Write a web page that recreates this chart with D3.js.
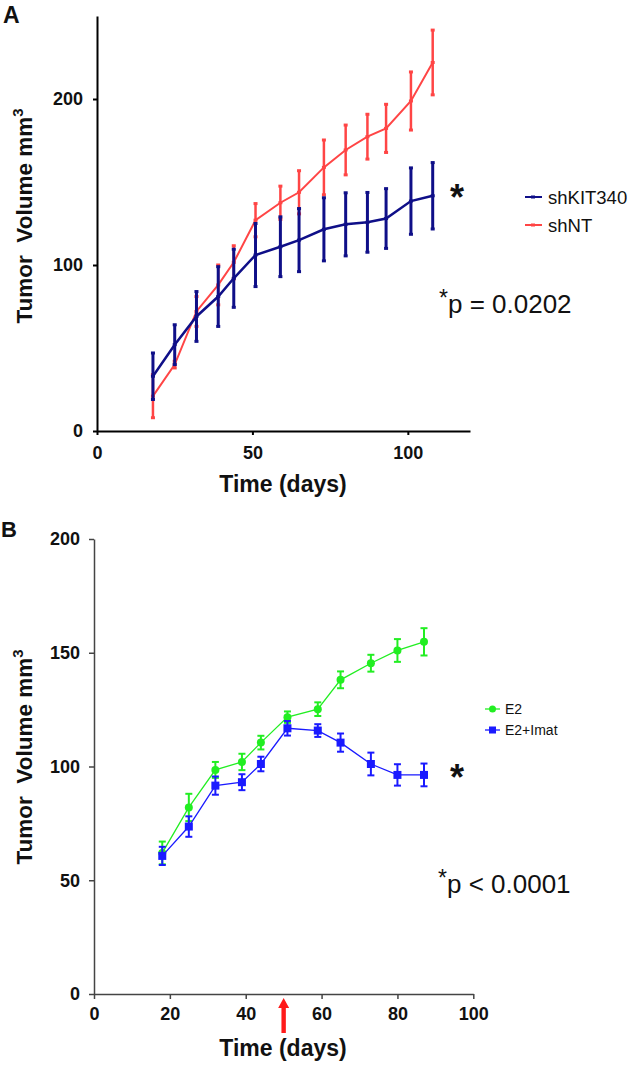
<!DOCTYPE html>
<html>
<head>
<meta charset="utf-8">
<script src="https://cdn.jsdelivr.net/npm/d3@7"></script>
<style>
  html, body { margin: 0; padding: 0; background: #fff; }
  svg { display: block; font-family: "Liberation Sans", Arial, sans-serif; }
</style>
</head>
<body>
<svg id="chart" width="633" height="1065"></svg>
<script>
// ---------- Panel A data ----------
const daysA = [18, 25, 32, 39, 44, 51, 59, 65, 73, 80, 87, 93, 101, 108];
const shKIT340 = [33, 52, 69, 81, 92, 106, 111, 115, 121.5, 124.5, 125.7, 128, 138.5, 141.7];
const shKIT340Err = [14, 12, 15, 18, 17.5, 19, 18, 19, 19, 19, 18, 18, 20, 20];
const shNT = [21, 40, 72, 88, 101.6, 127, 137.5, 143.8, 158.8, 169.3, 177.3, 182.3, 198.8, 222];
const shNTErr = [13, 2, 9, 12, 10, 10, 10, 13, 16.5, 15, 13.5, 14.5, 17.5, 19.5];
const ticksAx = [0, 50, 100];
const ticksAy = [0, 100, 200];
const legendA = ["shKIT340", "shNT"];

// ---------- Panel B data ----------
const daysB = [18, 25, 32, 39, 44, 51, 59, 65, 73, 80, 87];
const E2 = [62, 82, 98.5, 102, 110.5, 121.7, 125.2, 138.1, 145.4, 151, 154.8];
const E2Err = [5, 6, 3.5, 3.6, 3, 2.5, 3, 3.7, 3.7, 5, 6];
const E2Imat = [60.7, 73.6, 91.6, 93.1, 101.1, 116.8, 115.8, 110.5, 101.1, 96.3, 96.3];
const E2ImatErr = [4, 4.5, 4, 3.5, 3.2, 3.2, 2.8, 4, 5, 4.7, 5];
const ticksBx = [0, 20, 40, 60, 80, 100];
const ticksBy = [0, 50, 100, 150, 200];
const legendB = ["E2", "E2+Imat"];
const treatmentDay = 50;

const svg = d3.select("#chart");

// ================= Panel A =================
const xA = d3.scaleLinear().domain([0, 120]).range([97, 470]);
const yA = d3.scaleLinear().domain([0, 250]).range([431, 16]);

const gA = svg.append("g");

function styleAxisA(g) {
  g.select(".domain").attr("stroke", "#000").attr("stroke-width", 2);
  g.selectAll(".tick line").attr("stroke", "#000").attr("stroke-width", 2);
  g.selectAll(".tick text").attr("fill", "#111").attr("font-size", 18).attr("font-weight", "bold")
    .attr("font-family", "Liberation Sans, Arial, sans-serif");
}
gA.append("g").attr("transform", `translate(0,${yA(0)})`)
  .call(d3.axisBottom(xA).tickValues(ticksAx).tickSize(4).tickSizeOuter(0).tickPadding(11))
  .call(styleAxisA);
gA.append("g").attr("transform", `translate(${xA(0)},0)`)
  .call(d3.axisLeft(yA).tickValues(ticksAy).tickSize(4).tickSizeOuter(0).tickPadding(10))
  .call(styleAxisA);

function drawSeriesA(days, vals, errs, color, lw, bw) {
  const g = gA.append("g");
  const line = d3.line().x((d, i) => xA(days[i])).y(d => yA(d));
  g.append("path").datum(vals).attr("d", line).attr("fill", "none")
    .attr("stroke", color).attr("stroke-width", lw);
  g.selectAll("line.err").data(vals).join("line")
    .attr("x1", (d, i) => xA(days[i])).attr("x2", (d, i) => xA(days[i]))
    .attr("y1", (d, i) => yA(d - errs[i])).attr("y2", (d, i) => yA(d + errs[i]))
    .attr("stroke", color).attr("stroke-width", bw);
  const caps = [];
  vals.forEach((d, i) => { caps.push([days[i], d - errs[i]]); caps.push([days[i], d + errs[i]]); caps.push([days[i], d]); });
  g.selectAll("rect.cap").data(caps).join("rect")
    .attr("x", d => xA(d[0]) - 2).attr("y", d => yA(d[1]) - 1.5)
    .attr("width", 4).attr("height", 3).attr("fill", color);
}
const redA = "#ff4545", navyA = "#0f0f88";
drawSeriesA(daysA, shNT, shNTErr, redA, 2, 2.5);
drawSeriesA(daysA, shKIT340, shKIT340Err, navyA, 2.5, 3);

// Legend A
const legColorsA = [navyA, redA];
legendA.forEach((name, i) => {
  const y = 197 + i * 28;
  gA.append("line").attr("x1", 525).attr("x2", 542).attr("y1", y).attr("y2", y)
    .attr("stroke", legColorsA[i]).attr("stroke-width", 2);
  gA.append("rect").attr("x", 531).attr("y", y - 1.5).attr("width", 4).attr("height", 3).attr("fill", legColorsA[i]);
  gA.append("text").attr("x", 548).attr("y", y + 6.5).attr("font-size", 18.5).attr("fill", "#111").text(name);
});

// Significance A
gA.append("text").attr("x", 457).attr("y", 210).attr("text-anchor", "middle")
  .attr("font-size", 36).attr("font-weight", "bold").attr("fill", "#111").text("*");
const pA = gA.append("text").attr("x", 439).attr("y", 313).attr("font-size", 26).attr("fill", "#111");
pA.append("tspan").attr("font-size", 23).attr("dy", -7).text("*");
pA.append("tspan").attr("dy", 7).text("p = 0.0202");

// Axis titles A
gA.append("text").attr("x", 283).attr("y", 492).attr("text-anchor", "middle")
  .attr("font-size", 23).attr("font-weight", "bold").attr("fill", "#111").text("Time (days)");
const ytA = gA.append("text").attr("transform", "translate(32,216) rotate(-90)")
  .attr("text-anchor", "middle").attr("font-size", 22.5).attr("font-weight", "bold")
  .attr("fill", "#111").style("white-space", "pre");
ytA.append("tspan").text("Tumor  Volume mm");
ytA.append("tspan").attr("font-size", 15).attr("dy", -9).text("3");

gA.append("text").attr("x", 3).attr("y", 23).attr("font-size", 23).attr("font-weight", "bold")
  .attr("fill", "#111").text("A");

// ================= Panel B =================
const xB = d3.scaleLinear().domain([0, 100]).range([94, 473.3]);
const yB = d3.scaleLinear().domain([0, 200]).range([994, 539]);
const gB = svg.append("g");

function styleAxisB(g) {
  g.select(".domain").attr("stroke", "#444").attr("stroke-width", 1.5);
  g.selectAll(".tick line").attr("stroke", "#444").attr("stroke-width", 1.5);
  g.selectAll(".tick text").attr("fill", "#111").attr("font-size", 18).attr("font-weight", "bold")
    .attr("font-family", "Liberation Sans, Arial, sans-serif");
}
gB.append("g").attr("transform", `translate(0,${yB(0)})`)
  .call(d3.axisBottom(xB).tickValues(ticksBx).tickSize(5).tickSizeOuter(0).tickPadding(8))
  .call(styleAxisB);
gB.append("g").attr("transform", `translate(${xB(0)},0)`)
  .call(d3.axisLeft(yB).tickValues(ticksBy).tickSize(5).tickSizeOuter(0).tickPadding(9))
  .call(styleAxisB);

function drawSeriesB(days, vals, errs, color, shape) {
  const g = gB.append("g");
  const line = d3.line().x((d, i) => xB(days[i])).y(d => yB(d));
  g.append("path").datum(vals).attr("d", line).attr("fill", "none")
    .attr("stroke", color).attr("stroke-width", 1.3);
  vals.forEach((d, i) => {
    const x = xB(days[i]), y1 = yB(d - errs[i]), y2 = yB(d + errs[i]);
    g.append("line").attr("x1", x).attr("x2", x).attr("y1", y1).attr("y2", y2)
      .attr("stroke", color).attr("stroke-width", 2);
    [y1, y2].forEach(yy => g.append("line").attr("x1", x - 3.5).attr("x2", x + 3.5)
      .attr("y1", yy).attr("y2", yy).attr("stroke", color).attr("stroke-width", 2));
    if (shape === "circle") {
      g.append("circle").attr("cx", x).attr("cy", yB(d)).attr("r", 4).attr("fill", color);
    } else {
      g.append("rect").attr("x", x - 4).attr("y", yB(d) - 4).attr("width", 8).attr("height", 8).attr("fill", color);
    }
  });
}
const greenB = "#22ee22", blueB = "#1a1aff";
drawSeriesB(daysB, E2, E2Err, greenB, "circle");
drawSeriesB(daysB, E2Imat, E2ImatErr, blueB, "square");

// Legend B
const legColorsB = [greenB, blueB];
legendB.forEach((name, i) => {
  const y = 709 + i * 21;
  gB.append("line").attr("x1", 485).attr("x2", 500).attr("y1", y).attr("y2", y)
    .attr("stroke", legColorsB[i]).attr("stroke-width", 1.3);
  if (i === 0) gB.append("circle").attr("cx", 492.5).attr("cy", y).attr("r", 3.5).attr("fill", legColorsB[i]);
  else gB.append("rect").attr("x", 489).attr("y", y - 3.5).attr("width", 7).attr("height", 7).attr("fill", legColorsB[i]);
  gB.append("text").attr("x", 505).attr("y", y + 5).attr("font-size", 14).attr("fill", "#111").text(name);
});

gB.append("text").attr("x", 457).attr("y", 790).attr("text-anchor", "middle")
  .attr("font-size", 36).attr("font-weight", "bold").attr("fill", "#111").text("*");
const pB = gB.append("text").attr("x", 438).attr("y", 893).attr("font-size", 26).attr("fill", "#111");
pB.append("tspan").attr("font-size", 23).attr("dy", -7).text("*");
pB.append("tspan").attr("dy", 7).text("p < 0.0001");

// Treatment arrow
const ax = xB(treatmentDay);
gB.append("path")
  .attr("d", `M${ax},998 L${ax + 5.5},1008 L${ax + 2.2},1008 L${ax + 2.2},1033 L${ax - 2.2},1033 L${ax - 2.2},1008 L${ax - 5.5},1008 Z`)
  .attr("fill", "#ff1a1a");

gB.append("text").attr("x", 283).attr("y", 1056).attr("text-anchor", "middle")
  .attr("font-size", 23).attr("font-weight", "bold").attr("fill", "#111").text("Time (days)");
const ytB = gB.append("text").attr("transform", "translate(32,757) rotate(-90)")
  .attr("text-anchor", "middle").attr("font-size", 22.5).attr("font-weight", "bold")
  .attr("fill", "#111").style("white-space", "pre");
ytB.append("tspan").text("Tumor  Volume mm");
ytB.append("tspan").attr("font-size", 15).attr("dy", -9).text("3");

gB.append("text").attr("x", 1).attr("y", 537).attr("font-size", 22).attr("font-weight", "bold")
  .attr("fill", "#111").text("B");
</script>
</body>
</html>
